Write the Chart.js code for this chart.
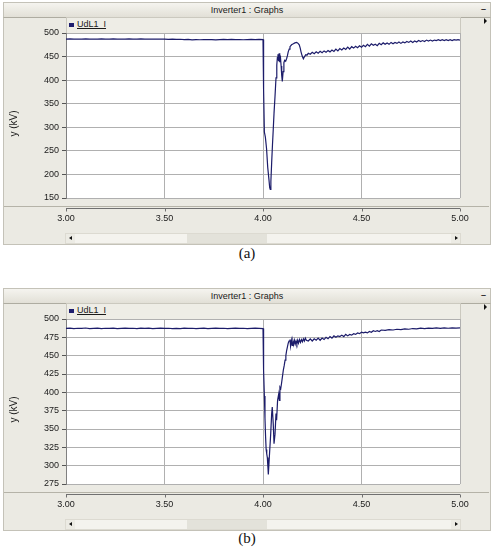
<!DOCTYPE html>
<html>
<head>
<meta charset="utf-8">
<script src="https://cdn.jsdelivr.net/npm/chart.js@4.4.0/dist/chart.umd.min.js"></script>
<style>
body { margin:0; width:494px; height:548px; background:#fff; position:relative; overflow:hidden; font-family:"Liberation Sans", Arial, sans-serif; }
.panel { position:absolute; left:0; width:494px; height:248px; }
.win { position:absolute; left:3px; top:2px; width:486px; height:241px; background:#ebeae3; border:1px solid #c4c2b8; }
.title { position:absolute; left:3px; top:2px; width:486px; height:14px; background:linear-gradient(#f5f4ef,#e2e0d7); border:1px solid #c4c2b8; border-bottom-color:#aeaca1; font-size:9px; line-height:14px; text-align:center; color:#1a1a1a; }
.mini { position:absolute; left:479px; top:5px; width:9px; height:9px; font-size:9px; line-height:9px; text-align:center; color:#333; font-weight:bold; }
.legend { position:absolute; left:66px; top:17px; width:393px; height:15px; background:#eeede6; border:1px solid #cbc9bf; border-bottom:none; }
.swatch { position:absolute; left:2px; top:5px; width:5px; height:4px; background:#1e1e6e; }
.legend span { position:absolute; left:10px; top:1px; font-size:9px; text-decoration:underline; color:#1a1a1a; }
.arrow { position:absolute; left:484px; top:18px; width:0; height:0; border-left:3px solid #111; border-top:3px solid transparent; border-bottom:3px solid transparent; }
.sep { position:absolute; left:4px; top:206px; width:485px; height:1px; background:#b5b3a8; }
.scroll { position:absolute; left:65px; top:233px; width:394px; height:9px; background:#f4f3ee; border:1px solid #dcdad1; }
.thumb { position:absolute; left:121px; top:0; width:80px; height:9px; background:#e3e2da; }
.btn { position:absolute; top:0; width:9px; height:9px; background:#ecebe4; }
.btn.l { left:0; } .btn.r { right:0; }
.tri { position:absolute; top:2px; width:0; height:0; border-top:2.5px solid transparent; border-bottom:2.5px solid transparent; }
.btn.l .tri { left:3px; border-right:3px solid #111; }
.btn.r .tri { left:4px; border-left:3px solid #111; }
canvas { position:absolute; left:0; top:0; }
.caption { position:absolute; left:0; width:494px; text-align:center; font-family:"Liberation Serif", serif; font-size:15px; color:#111; }
</style>
</head>
<body>

<div class="panel" style="top:0px">
  <div class="win"></div>
  <div class="title">Inverter1 : Graphs</div>
  <div class="mini">–</div>
  <div class="legend"><div class="swatch"></div><span>UdL1_I</span></div>
  <div class="arrow"></div>
  <div class="sep"></div>
  <div class="scroll"><div class="thumb"></div><div class="btn l"><div class="tri"></div></div><div class="btn r"><div class="tri"></div></div></div>
  <canvas id="chartA" width="494" height="232"></canvas>
</div>
<div class="caption" style="top:245px">(a)</div>

<div class="panel" style="top:286px">
  <div class="win"></div>
  <div class="title">Inverter1 : Graphs</div>
  <div class="mini">–</div>
  <div class="legend"><div class="swatch"></div><span>UdL1_I</span></div>
  <div class="arrow"></div>
  <div class="sep"></div>
  <div class="scroll"><div class="thumb"></div><div class="btn l"><div class="tri"></div></div><div class="btn r"><div class="tri"></div></div></div>
  <canvas id="chartB" width="494" height="232"></canvas>
</div>
<div class="caption" style="top:530px">(b)</div>

<script>
// x axis (time, s)
const xTicks = [3.00, 3.50, 4.00, 4.50, 5.00];

// y ticks for both graphs (kV)
const yTicksA = [150, 200, 250, 300, 350, 400, 450, 500];
const yTicksB = [275, 300, 325, 350, 375, 400, 425, 450, 475, 500];

// (a) UdL1_I
const timeA = [
  3.00,3.02,3.04,3.06,3.08,3.10,3.12,3.14,3.16,3.18,3.20,3.22,3.24,3.26,3.28,3.30,3.32,3.34,3.36,3.38,
  3.40,3.42,3.44,3.46,3.48,3.50,3.52,3.54,3.56,3.58,3.60,3.62,3.64,3.66,3.68,3.70,3.72,3.74,3.76,3.78,
  3.80,3.82,3.84,3.86,3.88,3.90,3.92,3.94,3.96,3.98,
  4.000,4.002,4.004,4.007,4.012,4.018,4.024,4.030,4.034,4.037,4.040,4.044,4.048,4.052,4.056,4.061,
  4.066,4.070,4.073,4.076,4.079,4.082,4.085,4.088,4.092,4.095,4.098,4.102,4.106,4.110,4.115,4.120,
  4.124,4.128,4.133,4.137,4.145,4.154,4.162,4.171,4.178,4.184,4.189,4.193,4.199,4.205,4.211,4.217,
  4.223,4.230,
  4.24,4.25,4.26,4.27,4.28,4.29,4.30,4.31,4.32,4.33,4.34,4.35,4.36,4.37,4.38,4.39,4.40,4.41,4.42,4.43,
  4.44,4.45,4.46,4.47,4.48,4.49,4.50,4.51,4.52,4.53,4.54,4.55,4.56,4.57,4.58,4.59,4.60,4.61,4.62,4.63,
  4.64,4.65,4.66,4.67,4.68,4.69,4.70,4.71,4.72,4.73,4.74,4.75,4.76,4.77,4.78,4.79,4.80,4.81,4.82,4.83,
  4.84,4.85,4.86,4.87,4.88,4.89,4.90,4.91,4.92,4.93,4.94,4.95,4.96,4.97,4.98,4.99,5.00
];
const voltA = [
  487,487.5,486.8,487.3,487,487.6,486.9,487.2,487,487.5,486.8,487.2,487.4,486.9,487.3,487,487.5,486.8,487.1,487.4,
  486.9,487.2,486.8,487.3,486.9,487.1,486.6,486.9,486.4,486.7,485.9,486.3,485.6,486,485.7,486.2,485.8,486.1,485.6,486,
  486.4,485.9,486.3,485.8,486.2,485.7,486.1,486.4,485.9,486.3,
  486,478,380,290,279,255,215,190,172,168,185,225,262,295,330,366,
  405,432,448,455,440,457,438,452,430,410,397,418,437,442,440,446,
  452,460,466,471,475,477,479,480,478,475,468,460,451,445,450,454,
  453,457,
  455,459,456,460,457,461,458,462,459,463,460,464,461,466,462,467,464,468,465,470,
  466,471,468,472,469,473,470,474,471,476,472,477,474,476,473,478,475,479,476,479,
  476,480,477,480,478,481,478,481,479,482,480,483,480,483,481,484,482,484,482,485,
  483,485,483,485,484,486,484,486,484,486,484,486,484,486,485,486,485
];

// (b) UdL1_I
const timeB = [
  3.00,3.02,3.04,3.06,3.08,3.10,3.12,3.14,3.16,3.18,3.20,3.22,3.24,3.26,3.28,3.30,3.32,3.34,3.36,3.38,
  3.40,3.42,3.44,3.46,3.48,3.50,3.52,3.54,3.56,3.58,3.60,3.62,3.64,3.66,3.68,3.70,3.72,3.74,3.76,3.78,
  3.80,3.82,3.84,3.86,3.88,3.90,3.92,3.94,3.96,3.98,
  4.000,4.002,4.004,4.007,4.010,4.013,4.016,4.019,4.022,4.025,4.027,4.032,4.039,4.044,4.047,4.052,
  4.056,4.061,4.066,4.069,4.074,4.080,4.083,4.086,4.090,4.094,4.098,4.103,4.108,4.112,4.116,4.120,
  4.124,4.128,4.132,4.137,4.140,4.144,4.148,4.152,4.156,4.160,4.164,4.168,4.172,4.176,4.180,4.185,
  4.190,4.195,4.200,4.205,4.210,4.215,4.220,
  4.23,4.24,4.25,4.26,4.27,4.28,4.29,4.30,4.31,4.32,4.33,4.34,4.35,4.36,4.37,4.38,4.39,4.40,4.41,4.42,
  4.43,4.44,4.45,4.46,4.47,4.48,4.49,4.50,4.51,4.52,4.53,4.54,4.55,4.56,4.57,4.58,4.59,4.60,
  4.62,4.64,4.66,4.68,4.70,4.72,4.74,4.76,4.78,4.80,4.82,4.84,4.86,4.88,4.90,4.92,4.94,4.96,4.98,5.00
];
const voltB = [
  487.2,487.6,487,487.4,487.1,487.7,487,487.3,487.5,487,487.4,487.1,487.6,487,487.3,487.5,487.1,487.4,487,487.6,
  487.2,487.5,487,487.3,487.6,487.1,487.4,486.9,487.3,487,487.5,487.1,487.4,486.9,487.2,487.6,487,487.3,487.5,487.1,
  487.4,487,487.3,487.6,487.1,487.4,487,487.3,487.5,487.2,
  487,470,430,395,365,340,322,316,311,298,288,311,343,371,380,357,
  330,343,371,362,389,398,389,407,405,412,420,430,437,444,450,457,
  462,467,470,472,463,471,464,470,465,471,466,470,466,471,467,472,
  468,472,469,473,470,474,471,
  470,473,470,473,471,474,471,474,472,475,473,476,474,477,475,477,476,478,476,479,
  477,479,478,480,479,481,480,482,481,482,481,483,482,484,483,484,483,485,
  484.5,485.5,485,486,485.5,486.5,486,487,486.5,487.5,487,487.6,487.2,487.8,487.3,487.8,487.4,487.9,487.5,487.8
];

const lineColor = '#1c1c6a';
const gridColor = '#b0b0b0';

// white plot box, the separate x axis line with its ticks, and the y title
const panelChrome = {
  id: 'panelChrome',
  beforeDraw(chart) {
    const a = chart.chartArea, ctx = chart.ctx;
    ctx.save();
    ctx.fillStyle = '#ffffff';
    ctx.fillRect(a.left, a.top, a.right - a.left, a.bottom - a.top);
    ctx.restore();
  },
  afterDraw(chart) {
    const a = chart.chartArea, ctx = chart.ctx, xs = chart.scales.x;
    const y0 = a.bottom + 10.5;
    ctx.save();
    ctx.strokeStyle = '#707070';
    ctx.lineWidth = 1;
    ctx.beginPath();
    ctx.moveTo(a.left, y0);
    ctx.lineTo(a.right, y0);
    xs.ticks.forEach(t => {
      const px = Math.round(xs.getPixelForValue(t.value)) + 0.5;
      ctx.moveTo(px, y0);
      ctx.lineTo(px, y0 + 3);
    });
    ctx.stroke();

    // y (kV) sits a bit below the plot middle
    ctx.translate(14, (a.top + a.bottom) / 2 + 8);
    ctx.rotate(-Math.PI / 2);
    ctx.fillStyle = '#1a1a1a';
    ctx.font = '10px "Liberation Sans"';
    ctx.textAlign = 'center';
    ctx.textBaseline = 'middle';
    ctx.fillText('y (kV)', 0, 0);
    ctx.restore();
  }
};

function makeGraph(id, times, volts, yTicks) {
  const pts = times.map((t, i) => ({ x: t, y: volts[i] }));
  return new Chart(document.getElementById(id), {
    type: 'line',
    data: {
      datasets: [{
        label: 'UdL1_I',
        data: pts,
        borderColor: lineColor,
        borderWidth: 1.2,
        pointRadius: 0,
        tension: 0,
        fill: false
      }]
    },
    options: {
      responsive: false,
      animation: false,
      devicePixelRatio: 1,
      layout: { padding: { top: 33, right: 34, bottom: 0, left: 0 } },
      plugins: { legend: { display: false }, tooltip: { enabled: false } },
      scales: {
        x: {
          type: 'linear',
          min: xTicks[0],
          max: xTicks[xTicks.length - 1],
          ticks: {
            stepSize: xTicks[1] - xTicks[0],
            color: '#1a1a1a',
            font: { family: 'Liberation Sans', size: 9 },
            padding: 15,
            maxRotation: 0,
            callback: v => Number(v).toFixed(2)
          },
          grid: { color: gridColor, drawTicks: false },
          border: { display: false },
          afterFit: s => { s.height = 34; }
        },
        y: {
          min: yTicks[0],
          max: yTicks[yTicks.length - 1],
          ticks: {
            stepSize: yTicks[1] - yTicks[0],
            color: '#1a1a1a',
            font: { family: 'Liberation Sans', size: 9 },
            padding: 3
          },
          grid: { color: gridColor, tickLength: 4, tickColor: '#555' },
          border: { display: true, color: '#808080' },
          afterFit: s => { s.width = 66; }
        }
      }
    },
    plugins: [panelChrome]
  });
}

makeGraph('chartA', timeA, voltA, yTicksA);
makeGraph('chartB', timeB, voltB, yTicksB);
</script>
</body>
</html>
